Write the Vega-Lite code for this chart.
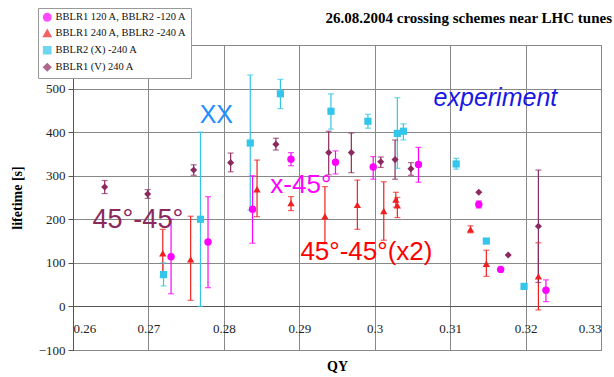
{
  "$schema": "https://vega.github.io/schema/vega-lite/v6.json",
  "width": 528,
  "height": 305,
  "autosize": {"type": "none"},
  "padding": {"left": 73, "top": 45, "right": 13, "bottom": 27},
  "background": "white",
  "title": {"text": "26.08.2004 crossing schemes near LHC tunes", "font": "Liberation Serif", "fontSize": 15, "fontWeight": "bold", "anchor": "end", "dx": 11, "offset": 19, "dy": 37, "color": "black"},
  "config": {
    "view": {"stroke": "#888", "strokeWidth": 1},
    "axis": {"labelFont": "Liberation Serif", "labelFontSize": 13, "labelColor": "#222", "titleFont": "Liberation Serif", "titleFontSize": 14, "titleFontWeight": "bold", "titleColor": "black", "gridColor": "#888", "gridOpacity": 1, "domainColor": "#555", "tickColor": "#555"},
    "legend": {"labelFont": "Liberation Serif", "labelFontSize": 10.5, "labelColor": "#111", "labelLimit": 300}
  },
  "datasets": {
    "pts": [
      {"s": "BBLR1 120 A, BBLR2 -120 A", "q": 0.2730, "y": 114, "lo": 29, "hi": 200},
      {"s": "BBLR1 120 A, BBLR2 -120 A", "q": 0.2779, "y": 148, "lo": 43, "hi": 252},
      {"s": "BBLR1 120 A, BBLR2 -120 A", "q": 0.2838, "y": 223, "lo": 145, "hi": 300},
      {"s": "BBLR1 120 A, BBLR2 -120 A", "q": 0.2889, "y": 338, "lo": 323, "hi": 353},
      {"s": "BBLR1 120 A, BBLR2 -120 A", "q": 0.2948, "y": 331, "lo": 304, "hi": 357},
      {"s": "BBLR1 120 A, BBLR2 -120 A", "q": 0.2998, "y": 320, "lo": 292, "hi": 344},
      {"s": "BBLR1 120 A, BBLR2 -120 A", "q": 0.3058, "y": 326, "lo": 285, "hi": 365},
      {"s": "BBLR1 120 A, BBLR2 -120 A", "q": 0.3138, "y": 234, "lo": 226, "hi": 242},
      {"s": "BBLR1 120 A, BBLR2 -120 A", "q": 0.3167, "y": 85, "lo": null, "hi": null},
      {"s": "BBLR1 120 A, BBLR2 -120 A", "q": 0.3227, "y": 37, "lo": 11, "hi": 61},
      {"s": "BBLR1 240 A, BBLR2 -240 A", "q": 0.2719, "y": 122, "lo": 67, "hi": 177},
      {"s": "BBLR1 240 A, BBLR2 -240 A", "q": 0.2756, "y": 108, "lo": 14, "hi": 207},
      {"s": "BBLR1 240 A, BBLR2 -240 A", "q": 0.2844, "y": 269, "lo": 206, "hi": 336},
      {"s": "BBLR1 240 A, BBLR2 -240 A", "q": 0.2889, "y": 237, "lo": 220, "hi": 252},
      {"s": "BBLR1 240 A, BBLR2 -240 A", "q": 0.2934, "y": 207, "lo": 144, "hi": 275},
      {"s": "BBLR1 240 A, BBLR2 -240 A", "q": 0.2977, "y": 233, "lo": 177, "hi": 290},
      {"s": "BBLR1 240 A, BBLR2 -240 A", "q": 0.3012, "y": 219, "lo": 152, "hi": 286},
      {"s": "BBLR1 240 A, BBLR2 -240 A", "q": 0.3028, "y": 245, "lo": 228, "hi": 262},
      {"s": "BBLR1 240 A, BBLR2 -240 A", "q": 0.3030, "y": 232, "lo": 204, "hi": 250},
      {"s": "BBLR1 240 A, BBLR2 -240 A", "q": 0.3127, "y": 177, "lo": 169, "hi": 185},
      {"s": "BBLR1 240 A, BBLR2 -240 A", "q": 0.3148, "y": 98, "lo": 69, "hi": 129},
      {"s": "BBLR1 240 A, BBLR2 -240 A", "q": 0.3217, "y": 69, "lo": -8, "hi": 146},
      {"s": "BBLR2 (X) -240 A", "q": 0.2720, "y": 73, "lo": 47, "hi": 100},
      {"s": "BBLR2 (X) -240 A", "q": 0.2769, "y": 200, "lo": 0, "hi": 400},
      {"s": "BBLR2 (X) -240 A", "q": 0.2835, "y": 375, "lo": 221, "hi": 531},
      {"s": "BBLR2 (X) -240 A", "q": 0.2875, "y": 488, "lo": 454, "hi": 521},
      {"s": "BBLR2 (X) -240 A", "q": 0.2942, "y": 448, "lo": 407, "hi": 488},
      {"s": "BBLR2 (X) -240 A", "q": 0.2991, "y": 425, "lo": 409, "hi": 441},
      {"s": "BBLR2 (X) -240 A", "q": 0.3030, "y": 397, "lo": 317, "hi": 479},
      {"s": "BBLR2 (X) -240 A", "q": 0.3038, "y": 402, "lo": 382, "hi": 419},
      {"s": "BBLR2 (X) -240 A", "q": 0.3108, "y": 327, "lo": 315, "hi": 340},
      {"s": "BBLR2 (X) -240 A", "q": 0.3148, "y": 150, "lo": null, "hi": null},
      {"s": "BBLR2 (X) -240 A", "q": 0.3198, "y": 46, "lo": null, "hi": null},
      {"s": "BBLR1 (V) 240 A", "q": 0.2642, "y": 274, "lo": 259, "hi": 289},
      {"s": "BBLR1 (V) 240 A", "q": 0.2699, "y": 258, "lo": 248, "hi": 268},
      {"s": "BBLR1 (V) 240 A", "q": 0.2760, "y": 313, "lo": 301, "hi": 325},
      {"s": "BBLR1 (V) 240 A", "q": 0.2809, "y": 330, "lo": 309, "hi": 352},
      {"s": "BBLR1 (V) 240 A", "q": 0.2869, "y": 372, "lo": 359, "hi": 386},
      {"s": "BBLR1 (V) 240 A", "q": 0.2939, "y": 353, "lo": 302, "hi": 402},
      {"s": "BBLR1 (V) 240 A", "q": 0.2969, "y": 353, "lo": 307, "hi": 398},
      {"s": "BBLR1 (V) 240 A", "q": 0.3008, "y": 332, "lo": 319, "hi": 343},
      {"s": "BBLR1 (V) 240 A", "q": 0.3027, "y": 337, "lo": 292, "hi": 382},
      {"s": "BBLR1 (V) 240 A", "q": 0.3048, "y": 316, "lo": 301, "hi": 330},
      {"s": "BBLR1 (V) 240 A", "q": 0.3138, "y": 262, "lo": null, "hi": null},
      {"s": "BBLR1 (V) 240 A", "q": 0.3177, "y": 118, "lo": null, "hi": null},
      {"s": "BBLR1 (V) 240 A", "q": 0.3217, "y": 184, "lo": 55, "hi": 313}
    ],
    "notes": [
      {"t": "XX", "q": 0.2790, "y": 440},
      {"t": "experiment", "q": 0.3160, "y": 479},
      {"t": "45°-45°", "q": 0.2686, "y": 198},
      {"t": "x-45°", "q": 0.2902, "y": 279},
      {"t": "45°-45°(x2)", "q": 0.2989, "y": 124}
    ]
  },
  "layer": [
    {
      "data": {"name": "pts"},
      "transform": [{"filter": "datum.lo != null"}],
      "mark": {"type": "rule", "strokeWidth": 1.2},
      "encoding": {
        "x": {"field": "q", "type": "quantitative", "scale": {"domain": [0.26, 0.33], "nice": false, "zero": false},
              "axis": {"orient": "bottom", "grid": true, "labels": false, "ticks": false, "domain": false,
                       "values": [0.26, 0.27, 0.28, 0.29, 0.3, 0.31, 0.32, 0.33], "title": "QY", "titlePadding": 9}},
        "y": {"field": "lo", "type": "quantitative", "scale": {"domain": [-100, 600], "nice": false, "zero": false},
              "axis": {"values": [-100, 0, 100, 200, 300, 400, 500], "grid": true, "tickSize": 5, "labelPadding": 3,
                       "labelFont": "Liberation Serif", "labelFontSize": 13,
                       "title": "lifetime [s]", "titlePadding": 14}},
        "y2": {"field": "hi"},
        "color": {"field": "s", "type": "nominal", "title": null,
                  "scale": {"domain": ["BBLR1 120 A, BBLR2 -120 A", "BBLR1 240 A, BBLR2 -240 A", "BBLR2 (X) -240 A", "BBLR1 (V) 240 A"],
                            "range": ["#FF00FF", "#F02020", "#33C6EA", "#8B2A5E"]}}
      }
    },
    {
      "data": {"name": "pts"},
      "transform": [{"filter": "datum.lo != null"}],
      "mark": {"type": "tick", "orient": "horizontal", "size": 6, "thickness": 1.2},
      "encoding": {
        "x": {"field": "q", "type": "quantitative", "axis": null},
        "y": {"field": "lo", "type": "quantitative"},
        "color": {"field": "s", "type": "nominal", "title": null}
      }
    },
    {
      "data": {"name": "pts"},
      "transform": [{"filter": "datum.lo != null"}],
      "mark": {"type": "tick", "orient": "horizontal", "size": 6, "thickness": 1.2},
      "encoding": {
        "x": {"field": "q", "type": "quantitative", "axis": null},
        "y": {"field": "hi", "type": "quantitative"},
        "color": {"field": "s", "type": "nominal", "title": null}
      }
    },
    {
      "data": {"name": "pts"},
      "mark": {"type": "point", "filled": true, "opacity": 1},
      "encoding": {
        "x": {"field": "q", "type": "quantitative",
              "axis": {"orient": "bottom", "offset": -44, "grid": false, "ticks": false, "domain": true,
                       "values": [0.26, 0.27, 0.28, 0.29, 0.3, 0.31, 0.32, 0.33], "format": ".2~f",
                       "labelFont": "Liberation Serif", "labelFontSize": 13,
                       "labelPadding": 16, "title": null}},
        "y": {"field": "y", "type": "quantitative"},
        "color": {"field": "s", "type": "nominal", "title": null,
                  "legend": {"orient": "none", "legendX": -35, "legendY": -37, "strokeColor": "#999", "fillColor": "white", "padding": 4,
                             "symbolSize": 50, "rowPadding": 3, "labelOffset": 3, "labelFont": "Liberation Serif"}},
        "shape": {"field": "s", "type": "nominal", "title": null,
                  "scale": {"domain": ["BBLR1 120 A, BBLR2 -120 A", "BBLR1 240 A, BBLR2 -240 A", "BBLR2 (X) -240 A", "BBLR1 (V) 240 A"],
                            "range": ["circle", "triangle-up", "square", "diamond"]}},
        "size": {"field": "s", "type": "nominal", "legend": null,
                 "scale": {"domain": ["BBLR1 120 A, BBLR2 -120 A", "BBLR1 240 A, BBLR2 -240 A", "BBLR2 (X) -240 A", "BBLR1 (V) 240 A"],
                           "range": [55, 50, 25, 40]}}
      }
    },
    {
      "data": {"name": "notes"},
      "transform": [{"filter": "datum.t == 'XX'"}],
      "mark": {"type": "text", "font": "Liberation Sans", "fontSize": 25, "color": "#1E8FFF", "align": "center", "baseline": "middle"},
      "encoding": {"x": {"field": "q", "type": "quantitative", "axis": null}, "y": {"field": "y", "type": "quantitative"}, "text": {"field": "t"}}
    },
    {
      "data": {"name": "notes"},
      "transform": [{"filter": "datum.t == 'experiment'"}],
      "mark": {"type": "text", "font": "Liberation Sans", "fontSize": 25, "fontStyle": "italic", "color": "#1818E6", "align": "center", "baseline": "middle"},
      "encoding": {"x": {"field": "q", "type": "quantitative", "axis": null}, "y": {"field": "y", "type": "quantitative"}, "text": {"field": "t"}}
    },
    {
      "data": {"name": "notes"},
      "transform": [{"filter": "datum.t == '45°-45°'"}],
      "mark": {"type": "text", "font": "Liberation Sans", "fontSize": 27, "color": "#8B2A5E", "align": "center", "baseline": "middle"},
      "encoding": {"x": {"field": "q", "type": "quantitative", "axis": null}, "y": {"field": "y", "type": "quantitative"}, "text": {"field": "t"}}
    },
    {
      "data": {"name": "notes"},
      "transform": [{"filter": "datum.t == 'x-45°'"}],
      "mark": {"type": "text", "font": "Liberation Sans", "fontSize": 26, "color": "#FF00FF", "align": "center", "baseline": "middle"},
      "encoding": {"x": {"field": "q", "type": "quantitative", "axis": null}, "y": {"field": "y", "type": "quantitative"}, "text": {"field": "t"}}
    },
    {
      "data": {"name": "notes"},
      "transform": [{"filter": "datum.t == '45°-45°(x2)'"}],
      "mark": {"type": "text", "font": "Liberation Sans", "fontSize": 26, "color": "#FF0000", "align": "center", "baseline": "middle"},
      "encoding": {"x": {"field": "q", "type": "quantitative", "axis": null}, "y": {"field": "y", "type": "quantitative"}, "text": {"field": "t"}}
    }
  ],
  "resolve": {"axis": {"x": "independent"}}
}
